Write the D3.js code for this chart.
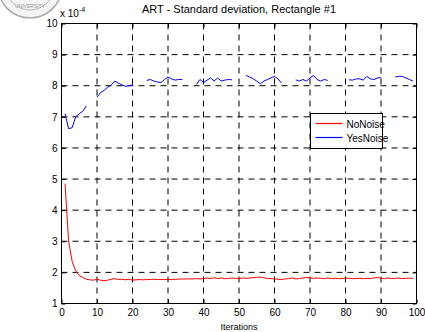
<!DOCTYPE html>
<html>
<head>
<meta charset="utf-8">
<script src="https://cdn.jsdelivr.net/npm/d3@7"></script>
<style>
  body { margin: 0; background: #fff; }
  svg { display: block; font-family: "Liberation Sans", Arial, sans-serif; }
  .grid line { stroke: #000; stroke-dasharray: 6,5; }
  .tick text { font-size: 10px; fill: #000; }
</style>
</head>
<body>
<svg id="chart" width="425" height="332"></svg>
<script>
// values are in units of 1e-4
const iterations = d3.range(1, 100)

const noNoise = [
  4.85, 3.00, 2.35, 2.05, 1.90, 1.84, 1.78, 1.76, 1.75, 1.78,
  1.75, 1.73, 1.75, 1.78, 1.80, 1.77, 1.78, 1.76, 1.78, 1.75,
  1.76, 1.77, 1.76, 1.77, 1.77, 1.78, 1.77, 1.77, 1.77, 1.77,
  1.77, 1.78, 1.78, 1.79, 1.79, 1.79, 1.79, 1.80, 1.79, 1.80,
  1.82, 1.80, 1.83, 1.80, 1.82, 1.80, 1.80, 1.82, 1.81, 1.80,
  1.82, 1.81, 1.82, 1.83, 1.84, 1.85, 1.83, 1.80, 1.80, 1.79,
  1.78, 1.77, 1.79, 1.80, 1.82, 1.79, 1.80, 1.82, 1.84, 1.82,
  1.81, 1.82, 1.81, 1.80, 1.82, 1.80, 1.81, 1.80, 1.80, 1.82,
  1.81, 1.80, 1.80, 1.81, 1.80, 1.81, 1.80, 1.82, 1.84, 1.81,
  1.80, 1.82, 1.80, 1.81, 1.82, 1.80, 1.81, 1.81, 1.81
]

const yesNoise = [
  7.10, 6.62, 6.65, 7.00, 7.10, 7.18, 7.35, null, null, 7.63,
  7.78, 7.85, 7.95, 8.02, 8.15, 8.08, 8.03, 7.98, 8.00, 8.03,
  null, null, null, 8.17, 8.20, 8.15, 8.12, 8.10, 8.20, 8.28,
  8.22, 8.18, 8.20, 8.20, null, null, null, 8.04, 8.20, 8.10,
  8.18, 8.25, 8.15, 8.25, 8.15, 8.18, 8.20, 8.19, null, null,
  null, 8.33, 8.28, 8.22, 8.15, 8.06, 8.15, 8.20, 8.25, 8.30,
  8.22, 8.08, null, null, null, 8.19, 8.15, 8.20, 8.15, 8.25,
  8.33, 8.20, 8.15, 8.20, 8.17, null, null, null, null, null,
  8.19, 8.18, 8.22, 8.22, 8.18, 8.30, 8.22, 8.20, 8.25, 8.26,
  null, null, null, 8.28, 8.30, 8.30, 8.25, 8.20, 8.15
]

const xTicks = [0, 10, 20, 30, 40, 50, 60, 70, 80, 90, 100]
const yTicks = [1, 2, 3, 4, 5, 6, 7, 8, 9, 10]

const series = [
  {name: 'NoNoise', color: '#ff0000', values: noNoise},
  {name: 'YesNoise', color: '#0000ff', values: yesNoise}
]

const margin = {top: 23.5, right: 8.5, bottom: 28.5, left: 61.5}
const W = 425, H = 332
const width = W - margin.left - margin.right
const height = H - margin.top - margin.bottom

const svg = d3.select('#chart')

// partial seal in the corner
const seal = svg.append('g').attr('transform', 'translate(30,-14)')
seal.append('circle').attr('r', 32).attr('fill', '#f4f4f4').attr('stroke', '#aaa').attr('stroke-width', 1.5)
seal.append('circle').attr('r', 24).attr('fill', 'none').attr('stroke', '#bbb').attr('stroke-width', 1)
seal.append('text').attr('x', 0).attr('y', 22).attr('text-anchor', 'middle')
  .attr('font-size', 5).attr('fill', '#999').text('UNIVERSITY')

const g = svg.append('g').attr('transform', `translate(${margin.left},${margin.top})`)

const x = d3.scaleLinear().domain([0, 100]).range([0, width])
const y = d3.scaleLinear().domain([1, 10]).range([height, 0])

// grid
g.append('g').attr('class', 'grid')
  .selectAll('line.v').data(xTicks.slice(1, -1)).join('line')
  .attr('x1', d => x(d)).attr('x2', d => x(d)).attr('y1', 0).attr('y2', height)
g.append('g').attr('class', 'grid')
  .selectAll('line.h').data(yTicks.slice(1, -1)).join('line')
  .attr('x1', 0).attr('x2', width).attr('y1', d => y(d)).attr('y2', d => y(d))

// axes with inner ticks
const tickLen = 4
g.append('g').attr('transform', `translate(0,${height})`)
  .call(d3.axisBottom(x).tickValues(xTicks).tickSizeInner(-tickLen).tickSizeOuter(0).tickPadding(5))
g.append('g')
  .call(d3.axisLeft(y).tickValues(yTicks).tickSizeInner(-tickLen).tickSizeOuter(0).tickPadding(4))
g.append('g')
  .call(d3.axisTop(x).tickValues(xTicks).tickSizeInner(-tickLen).tickSizeOuter(0).tickFormat(''))
g.append('g').attr('transform', `translate(${width},0)`)
  .call(d3.axisRight(y).tickValues(yTicks).tickSizeInner(-tickLen).tickSizeOuter(0).tickFormat(''))
g.selectAll('.domain').remove()
g.selectAll('.tick line').attr('stroke', '#000')

g.append('rect').attr('width', width).attr('height', height)
  .attr('fill', 'none').attr('stroke', '#000').attr('stroke-width', 1)

// lines
const line = d3.line()
  .defined(d => d[1] != null)
  .x(d => x(d[0])).y(d => y(d[1]))

series.forEach(s => {
  g.append('path')
    .datum(iterations.map((it, i) => [it, s.values[i]]))
    .attr('fill', 'none').style('stroke', s.color).attr('stroke-width', 1)
    .attr('d', line)
})

// legend
const lg = svg.append('g').attr('transform', 'translate(310.5,113.5)')
lg.append('rect').attr('width', 72).attr('height', 35)
  .attr('fill', '#fff').attr('stroke', '#000')
series.forEach((s, i) => {
  const yy = 10 + i * 14
  lg.append('path').attr('d', `M5,${yy}H32`)
    .attr('fill', 'none').style('stroke', s.color).attr('stroke-width', 1.2)
  lg.append('text').attr('x', 36).attr('y', yy + 4).attr('font-size', 10).text(s.name)
})

// texts
svg.append('text').attr('x', margin.left + width / 2).attr('y', 13)
  .attr('text-anchor', 'middle').attr('font-size', 11).text('ART - Standard deviation, Rectangle #1')
svg.append('text').attr('x', margin.left + width / 2).attr('y', 330)
  .attr('text-anchor', 'middle').attr('font-size', 9).text('Iterations')
const exp = svg.append('text').attr('x', 60).attr('y', 17).attr('font-size', 10)
exp.append('tspan').text('x 10')
exp.append('tspan').attr('dy', -5).attr('font-size', 7).text('-4')
</script>
</body>
</html>
